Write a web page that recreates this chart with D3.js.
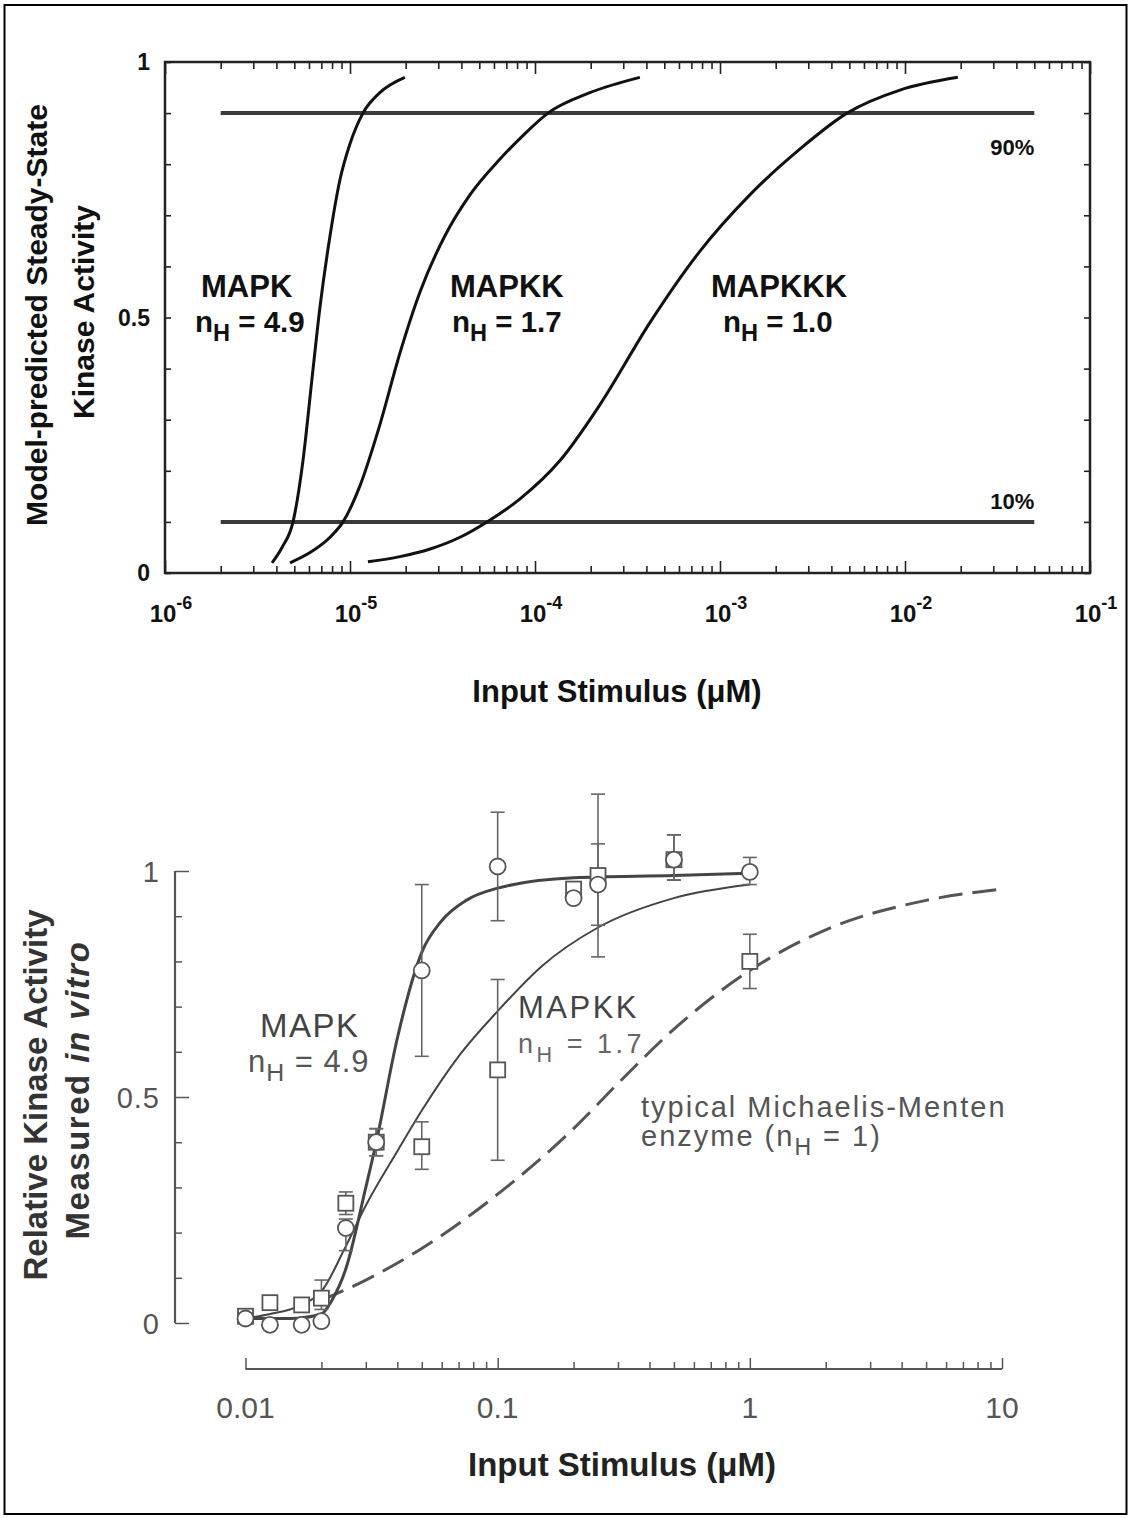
<!DOCTYPE html>
<html>
<head>
<meta charset="utf-8">
<script src="https://cdn.jsdelivr.net/npm/d3@7"></script>
<style>
  body { margin: 0; background: #fff; }
  svg { display: block; }
  text { font-family: "Liberation Sans", Arial, sans-serif; }
</style>
</head>
<body>
<svg width="1130" height="1518"></svg>
<script>
// ---- top panel: model-predicted curves ----
var mapkStim = [3.79e-6, 4.29e-6, 4.92e-6, 5.57e-6, 6.23e-6, 6.88e-6, 7.80e-6, 8.83e-6, 1.0e-5, 1.175e-5, 1.45e-5, 1.98e-5];
var mapkAct = [0.02, 0.05, 0.10, 0.22, 0.38, 0.52, 0.66, 0.77, 0.84, 0.90, 0.94, 0.97];

var mapkkStim = [4.74e-6, 6.08e-6, 7.80e-6, 9.17e-6, 1.13e-5, 1.45e-5, 1.86e-5, 2.39e-5, 3.26e-5, 4.45e-5, 6.47e-5, 8.83e-5, 1.175e-4, 1.98e-4, 3.69e-4];
var mapkkAct = [0.02, 0.04, 0.07, 0.10, 0.17, 0.29, 0.43, 0.55, 0.66, 0.74, 0.81, 0.86, 0.90, 0.94, 0.97];

var mapkkkStim = [1.25e-5, 1.86e-5, 2.71e-5, 3.93e-5, 5.50e-5, 8.30e-5, 1.365e-4, 2.25e-4, 4.18e-4, 7.80e-4, 1.45e-3, 2.71e-3, 4.86e-3, 9.39e-3, 1.93e-2];
var mapkkkAct = [0.022, 0.032, 0.047, 0.07, 0.10, 0.145, 0.22, 0.33, 0.49, 0.63, 0.74, 0.83, 0.90, 0.945, 0.97];

var thresholdLevels = [0.9, 0.1];
var thresholdLabels = ['90%', '10%'];
var thresholdSpan = [2e-6, 0.05];

// ---- bottom panel: measured in vitro ----
var measStim = [0.01, 0.0125, 0.0167, 0.02, 0.025, 0.033, 0.05, 0.1, 0.2, 0.25, 0.5, 1.0];
var mapkMeas = [0.01, -0.004, -0.004, 0.004, 0.21, 0.40, 0.78, 1.01, 0.94, 0.97, 1.025, 0.998];
var mapkLo = [null, null, null, null, 0.16, 0.37, 0.59, 0.89, 0.93, 0.88, 0.98, 0.97];
var mapkHi = [null, null, null, null, 0.23, 0.43, 0.97, 1.13, 0.96, 1.06, 1.08, 1.03];
var mapkkMeas = [0.015, 0.045, 0.04, 0.055, 0.265, 0.40, 0.39, 0.56, 0.96, 0.99, 1.025, 0.80];
var mapkkLo = [null, null, null, 0.03, 0.24, 0.37, 0.34, 0.36, 0.95, 0.81, 0.98, 0.74];
var mapkkHi = [null, 0.06, null, 0.095, 0.29, 0.43, 0.445, 0.76, 0.97, 1.17, 1.08, 0.86];

var fitMapkStim = [0.01, 0.015, 0.02, 0.022, 0.025, 0.03, 0.033, 0.04, 0.05, 0.06, 0.075, 0.1, 0.2, 0.5, 1.0];
var fitMapkAct = [0.01, 0.01, 0.02, 0.05, 0.12, 0.30, 0.40, 0.63, 0.82, 0.89, 0.935, 0.962, 0.985, 0.99, 0.995];
var fitMapkkStim = [0.01, 0.0125, 0.015, 0.0175, 0.02, 0.025, 0.03, 0.04, 0.05, 0.07, 0.1, 0.15, 0.25, 0.5, 1.0];
var fitMapkkAct = [0.01, 0.02, 0.03, 0.045, 0.07, 0.17, 0.26, 0.38, 0.47, 0.59, 0.69, 0.79, 0.875, 0.94, 0.97];
var mmStim = [0.02, 0.03, 0.05, 0.1, 0.2, 0.3, 0.5, 1, 2, 5, 10];
var mmAct = [0.05, 0.095, 0.165, 0.285, 0.43, 0.53, 0.65, 0.78, 0.87, 0.935, 0.96];

var svg = d3.select('svg');

svg.append('rect')
    .attr('x', 4.5).attr('y', 5).attr('width', 1122).attr('height', 1509)
    .attr('fill', 'none').attr('stroke', '#000').attr('stroke-width', 2);

function isDecade(d) {
    var l = Math.log10(d);
    return Math.abs(l - Math.round(l)) < 1e-9;
}
function zip(a, b) { return a.map(function(v, i) { return [v, b[i]]; }); }

// ============ TOP PANEL ============
var xTop = d3.scaleLog().domain([1e-6, 1e-1]).range([165, 1090]);
var yTop = d3.scaleLinear().domain([0, 1]).range([573, 62]);
var topTicks = xTop.ticks();
var topMajor = topTicks.filter(isDecade);
var topMinor = topTicks.filter(function(d) { return !isDecade(d); });

var topG = svg.append('g');

function styleTicks(g) {
    g.select('.domain').remove();
    g.selectAll('line').attr('stroke', '#222').attr('stroke-width', 1.6);
}
// bottom & top edge ticks (inward)
topG.append('g').attr('transform', 'translate(0,' + yTop(0) + ')')
    .call(d3.axisBottom(xTop).tickValues(topMinor).tickSize(-7).tickFormat('')).call(styleTicks);
topG.append('g').attr('transform', 'translate(0,' + yTop(0) + ')')
    .call(d3.axisBottom(xTop).tickValues(topMajor).tickSize(-12).tickFormat('')).call(styleTicks);
topG.append('g').attr('transform', 'translate(0,' + yTop(1) + ')')
    .call(d3.axisTop(xTop).tickValues(topMinor).tickSize(-7).tickFormat('')).call(styleTicks);
topG.append('g').attr('transform', 'translate(0,' + yTop(1) + ')')
    .call(d3.axisTop(xTop).tickValues(topMajor).tickSize(-12).tickFormat('')).call(styleTicks);
// left & right ticks
var yTopTicks = d3.range(0, 11).map(function(i) { return i / 10; });
topG.append('g').attr('transform', 'translate(' + xTop.range()[0] + ',0)')
    .call(d3.axisLeft(yTop).tickValues(yTopTicks).tickSize(-6).tickFormat('')).call(styleTicks);
topG.append('g').attr('transform', 'translate(' + xTop.range()[1] + ',0)')
    .call(d3.axisRight(yTop).tickValues(yTopTicks).tickSize(-6).tickFormat('')).call(styleTicks);

// frame
topG.append('rect')
    .attr('x', xTop.range()[0]).attr('y', yTop(1))
    .attr('width', xTop.range()[1] - xTop.range()[0]).attr('height', yTop(0) - yTop(1))
    .attr('fill', 'none').attr('stroke', '#222').attr('stroke-width', 2.5);

// threshold lines
topG.selectAll('.thr').data(thresholdLevels).enter().append('line')
    .attr('class', 'thr')
    .attr('x1', xTop(thresholdSpan[0])).attr('x2', xTop(thresholdSpan[1]))
    .attr('y1', function(d) { return yTop(d); }).attr('y2', function(d) { return yTop(d); })
    .attr('stroke', '#3a3a3a').attr('stroke-width', 4);
topG.selectAll('.thrLab').data(thresholdLevels).enter().append('text')
    .attr('x', xTop(thresholdSpan[1]))
    .attr('y', function(d, i) { return yTop(d) + (i === 0 ? 42 : -13); })
    .attr('text-anchor', 'end')
    .style('font-size', '22px').style('font-weight', 'bold').attr('fill', '#111')
    .text(function(d, i) { return thresholdLabels[i]; });

// model curves
var topLine = d3.line()
    .x(function(d) { return xTop(d[0]); })
    .y(function(d) { return yTop(d[1]); })
    .curve(d3.curveMonotoneX);
[zip(mapkStim, mapkAct), zip(mapkkStim, mapkkAct), zip(mapkkkStim, mapkkkAct)].forEach(function(s) {
    topG.append('path').datum(s).attr('d', topLine)
        .attr('fill', 'none').attr('stroke', '#111').attr('stroke-width', 3);
});

// tick labels
topG.selectAll('.xlab').data(topMajor).enter().append('text')
    .attr('x', function(d) { return xTop(d) + 6; })
    .attr('y', 622)
    .attr('text-anchor', 'middle')
    .style('font-size', '24px').style('font-weight', 'bold').attr('fill', '#111')
    .each(function(d) {
        var t = d3.select(this);
        t.append('tspan').text('10');
        t.append('tspan').attr('dy', -13).style('font-size', '18px').text(Math.round(Math.log10(d)));
    });
topG.selectAll('.ylab').data([0, 0.5, 1]).enter().append('text')
    .attr('x', 150).attr('y', function(d) { return yTop(d) + 8; })
    .attr('text-anchor', 'end')
    .style('font-size', '23px').style('font-weight', 'bold').attr('fill', '#111')
    .text(function(d) { return d; });

// titles
topG.append('text').attr('x', 617).attr('y', 702).attr('text-anchor', 'middle')
    .style('font-size', '31px').style('font-weight', 'bold').attr('fill', '#111')
    .text('Input Stimulus (\u03bcM)');
topG.append('text').attr('transform', 'translate(47,315) rotate(-90)').attr('text-anchor', 'middle')
    .style('font-size', '30px').style('font-weight', 'bold').attr('fill', '#111')
    .text('Model-predicted Steady-State');
topG.append('text').attr('transform', 'translate(94,312) rotate(-90)').attr('text-anchor', 'middle')
    .style('font-size', '30px').style('font-weight', 'bold').attr('fill', '#111')
    .text('Kinase Activity');

// curve annotations
function nhLabel(g, x, y, val, size, weight, color, spacing) {
    var t = g.append('text').attr('x', x).attr('y', y)
        .style('font-size', size + 'px').style('font-weight', weight).attr('fill', color)
        .style('letter-spacing', (spacing || 0) + 'px');
    t.append('tspan').text('n');
    t.append('tspan').attr('dy', 9).style('font-size', (size * 0.8) + 'px').text('H');
    t.append('tspan').attr('dy', -9).text(' = ' + val);
    return t;
}
var topNames = [['MAPK', 201, 195, '4.9'], ['MAPKK', 450, 452, '1.7'], ['MAPKKK', 711, 723, '1.0']];
topNames.forEach(function(n) {
    topG.append('text').attr('x', n[1]).attr('y', 297)
        .style('font-size', '31px').style('font-weight', 'bold').attr('fill', '#111').text(n[0]);
    nhLabel(topG, n[2], 332, n[3], 29.5, 'bold', '#111');
});

// ============ BOTTOM PANEL ============
var xBot = d3.scaleLog().domain([0.01, 10]).range([245.5, 1002]);
var yBot = d3.scaleLinear().domain([0, 1]).range([1323, 871]);
var botTicks = xBot.ticks();
var botMajor = botTicks.filter(isDecade);
var botMinor = botTicks.filter(function(d) { return !isDecade(d); });
var botG = svg.append('g');

function styleGrey(g) {
    g.select('.domain').remove();
    g.selectAll('line').attr('stroke', '#555').attr('stroke-width', 1.5);
}
botG.append('line').attr('x1', xBot(0.01)).attr('x2', xBot(10)).attr('y1', 1369).attr('y2', 1369)
    .attr('stroke', '#555').attr('stroke-width', 2.2);
botG.append('g').attr('transform', 'translate(0,1369)')
    .call(d3.axisBottom(xBot).tickValues(botMinor).tickSize(-7).tickFormat('')).call(styleGrey);
botG.append('g').attr('transform', 'translate(0,1369)')
    .call(d3.axisBottom(xBot).tickValues(botMajor).tickSize(-11).tickFormat('')).call(styleGrey);
botG.selectAll('.bxlab').data(botMajor).enter().append('text')
    .attr('x', function(d) { return xBot(d); }).attr('y', 1418)
    .attr('text-anchor', 'middle')
    .style('font-size', '30px').attr('fill', '#555')
    .text(function(d) { return d; });

var yBotMinor = [0.1, 0.2, 0.3, 0.4, 0.6, 0.7, 0.8, 0.9];
botG.append('line').attr('x1', 175).attr('x2', 175).attr('y1', yBot(0)).attr('y2', yBot(1))
    .attr('stroke', '#555').attr('stroke-width', 2.2);
botG.append('g').attr('transform', 'translate(175,0)')
    .call(d3.axisLeft(yBot).tickValues(yBotMinor).tickSize(-7).tickFormat('')).call(styleGrey);
botG.append('g').attr('transform', 'translate(175,0)')
    .call(d3.axisLeft(yBot).tickValues([0, 0.5, 1]).tickSize(-14).tickFormat('')).call(styleGrey);
botG.selectAll('.bylab').data([0, 0.5, 1]).enter().append('text')
    .attr('x', 160).attr('y', function(d) { return yBot(d) + 11; })
    .attr('text-anchor', 'end')
    .style('font-size', '29px').style('letter-spacing', '1px').attr('fill', '#555')
    .text(function(d) { return d; });

// fitted curves
var botLine = d3.line()
    .x(function(d) { return xBot(d[0]); })
    .y(function(d) { return yBot(d[1]); })
    .curve(d3.curveMonotoneX);
botG.append('path').datum(zip(mmStim, mmAct)).attr('d', botLine)
    .attr('fill', 'none').attr('stroke', '#555').attr('stroke-width', 3).attr('stroke-dasharray', '24 10');
botG.append('path').datum(zip(fitMapkkStim, fitMapkkAct)).attr('d', botLine)
    .attr('fill', 'none').attr('stroke', '#444').attr('stroke-width', 2);
botG.append('path').datum(zip(fitMapkStim, fitMapkAct)).attr('d', botLine)
    .attr('fill', 'none').attr('stroke', '#444').attr('stroke-width', 3);

// error bars
function errorBars(lo, hi, vals) {
    var rows = measStim.map(function(s, i) { return { s: s, lo: lo[i], hi: hi[i], v: vals[i] }; });
    rows.forEach(function(r) {
        [r.lo, r.hi].forEach(function(e) {
            if (e === null) return;
            botG.append('line').attr('x1', xBot(r.s)).attr('x2', xBot(r.s))
                .attr('y1', yBot(r.v)).attr('y2', yBot(e)).attr('stroke', '#666').attr('stroke-width', 1.6);
            botG.append('line').attr('x1', xBot(r.s) - 7).attr('x2', xBot(r.s) + 7)
                .attr('y1', yBot(e)).attr('y2', yBot(e)).attr('stroke', '#666').attr('stroke-width', 1.6);
        });
    });
}
errorBars(mapkLo, mapkHi, mapkMeas);
errorBars(mapkkLo, mapkkHi, mapkkMeas);

// markers
botG.selectAll('.sq').data(measStim).enter().append('rect')
    .attr('x', function(d) { return xBot(d) - 7.5; })
    .attr('y', function(d, i) { return yBot(mapkkMeas[i]) - 7.5; })
    .attr('width', 15).attr('height', 15)
    .attr('fill', '#fff').attr('stroke', '#555').attr('stroke-width', 1.8);
botG.selectAll('.ci').data(measStim).enter().append('circle')
    .attr('cx', function(d) { return xBot(d); })
    .attr('cy', function(d, i) { return yBot(mapkMeas[i]); })
    .attr('r', 8)
    .attr('fill', '#fff').attr('stroke', '#555').attr('stroke-width', 1.8);

// annotations
botG.append('text').attr('x', 260).attr('y', 1037)
    .style('font-size', '33px').style('letter-spacing', '1.5px').attr('fill', '#444').text('MAPK');
nhLabel(botG, 248, 1072, '4.9', 31, 'normal', '#555', 1);
botG.append('text').attr('x', 518).attr('y', 1018)
    .style('font-size', '31px').style('letter-spacing', '2.5px').attr('fill', '#444').text('MAPKK');
nhLabel(botG, 518, 1053, '1.7', 27, 'normal', '#666', 3.5);
botG.append('text').attr('x', 641).attr('y', 1117)
    .style('font-size', '29px').style('letter-spacing', '2px').attr('fill', '#555').text('typical Michaelis-Menten');
var enz = botG.append('text').attr('x', 641).attr('y', 1146)
    .style('font-size', '29px').style('letter-spacing', '2px').attr('fill', '#555');
enz.append('tspan').text('enzyme (n');
enz.append('tspan').attr('dy', 9).style('font-size', '23px').text('H');
enz.append('tspan').attr('dy', -9).text(' = 1)');

// titles
botG.append('text').attr('x', 622).attr('y', 1476).attr('text-anchor', 'middle')
    .style('font-size', '33px').style('font-weight', 'bold').attr('fill', '#222')
    .text('Input Stimulus (\u03bcM)');
botG.append('text').attr('transform', 'translate(47,1095) rotate(-90)').attr('text-anchor', 'middle')
    .style('font-size', '33px').style('font-weight', 'bold').attr('fill', '#333')
    .text('Relative Kinase Activity');
var meas = botG.append('text').attr('transform', 'translate(89,1090) rotate(-90)').attr('text-anchor', 'middle')
    .style('font-size', '33px').style('font-weight', 'bold').style('letter-spacing', '1.5px').attr('fill', '#333');
meas.append('tspan').text('Measured ');
meas.append('tspan').style('font-style', 'italic').text('in vitro');
</script>
</body>
</html>
